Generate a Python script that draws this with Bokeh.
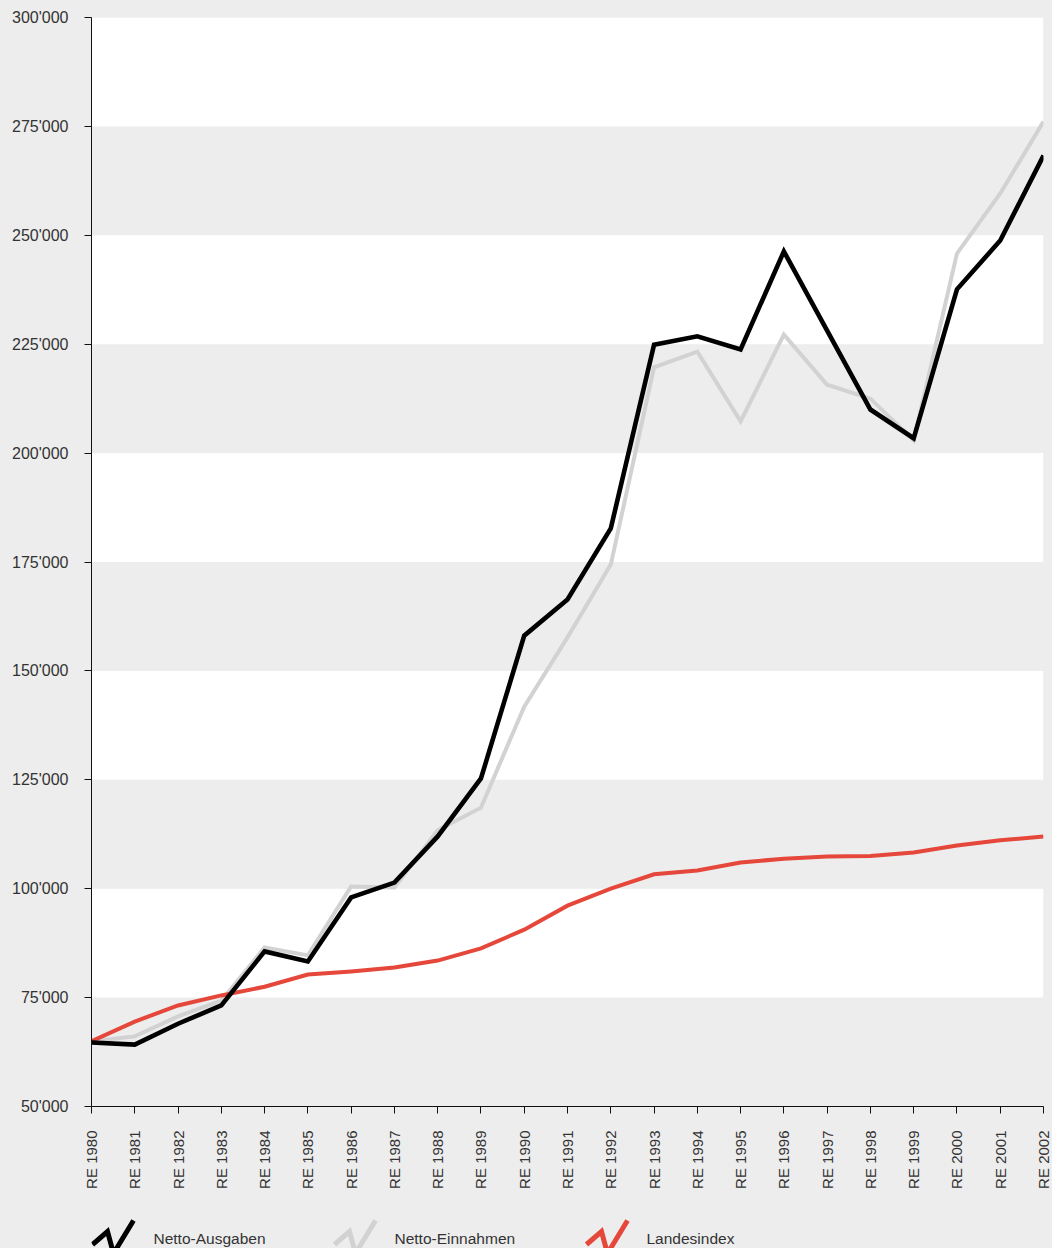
import math
from bokeh.plotting import figure
from bokeh.models import (Range1d, FixedTicker, BoxAnnotation, CustomJSTickFormatter, ColumnDataSource)
from bokeh.layouts import column
from bokeh.core.properties import value
from bokeh.embed import file_html
from bokeh.resources import INLINE

# ---------------- data ----------------
years = ["RE 1980", "RE 1981", "RE 1982", "RE 1983", "RE 1984", "RE 1985", "RE 1986",
         "RE 1987", "RE 1988", "RE 1989", "RE 1990", "RE 1991", "RE 1992", "RE 1993",
         "RE 1994", "RE 1995", "RE 1996", "RE 1997", "RE 1998", "RE 1999", "RE 2000",
         "RE 2001", "RE 2002"]

netto_ausgaben = [64700, 64200, 69000, 73200, 85600, 83300, 98000, 101400, 112000, 125300,
                  158100, 166400, 182700, 224900, 226800, 223800, 246300, 228100, 210000,
                  203400, 237600, 248800, 268300]

netto_einnahmen = [65000, 66100, 70700, 74300, 86500, 84700, 100500, 100300, 113400, 118600,
                   141800, 157700, 174400, 219700, 223300, 207300, 227200, 215700, 212500,
                   202900, 245800, 259600, 276100]

landesindex = [65000, 69500, 73200, 75500, 77500, 80300, 81000, 81900, 83500, 86300,
               90600, 96100, 100000, 103300, 104200, 106000, 106900, 107400, 107500,
               108300, 109900, 111100, 112000]

series_names = ["Netto-Ausgaben", "Netto-Einnahmen", "Landesindex"]
y_ticks = [50000, 75000, 100000, 125000, 150000, 175000, 200000, 225000, 250000, 275000, 300000]

# ---------------- style ----------------
BG = "#ededed"
FONT = "Liberation Sans"
TXT = "#333333"
colors = {"Netto-Ausgaben": "#000000", "Netto-Einnahmen": "#d2d2d2", "Landesindex": "#e5473b"}
widths = {"Netto-Ausgaben": 4.6, "Netto-Einnahmen": 4, "Landesindex": 4}

FRAME_L, FRAME_R, FRAME_T, FRAME_B = 91, 1043, 17, 1106
W, H_MAIN, H_LEG = 1052, 1200, 48

xs = list(range(len(years)))

p = figure(width=W, height=H_MAIN, output_backend="svg", toolbar_location=None,
           x_range=Range1d(0, len(years) - 1), y_range=Range1d(y_ticks[0], y_ticks[-1]),
           frame_width=FRAME_R - FRAME_L, frame_height=FRAME_B - FRAME_T,
           min_border_left=FRAME_L, min_border_top=FRAME_T, min_border_right=W - FRAME_R,
           min_border_bottom=H_MAIN - FRAME_B)
p.background_fill_color = BG
p.border_fill_color = BG
p.outline_line_color = None
p.grid.visible = False

# alternating white bands
for i in range(1, len(y_ticks) - 1, 2):
    p.add_layout(BoxAnnotation(bottom=y_ticks[i], top=y_ticks[i + 1],
                               fill_color="white", fill_alpha=1, line_color=None, level="underlay"))

src = ColumnDataSource(dict(x=xs, a=netto_ausgaben, e=netto_einnahmen, l=landesindex))
p.line("x", "e", source=src, line_color=colors["Netto-Einnahmen"], line_width=widths["Netto-Einnahmen"], line_join="miter")
p.line("x", "l", source=src, line_color=colors["Landesindex"], line_width=widths["Landesindex"], line_join="miter")
p.line("x", "a", source=src, line_color=colors["Netto-Ausgaben"], line_width=widths["Netto-Ausgaben"], line_join="miter")

# axes
p.yaxis.ticker = FixedTicker(ticks=y_ticks)
p.yaxis.formatter = CustomJSTickFormatter(code="""
    var s = Math.round(tick).toString();
    return s.replace(/\\B(?=(\\d{3})+(?!\\d))/g, "'");
""")
p.xaxis.ticker = FixedTicker(ticks=xs)
p.xaxis.major_label_overrides = {i: y for i, y in enumerate(years)}
p.xaxis.major_label_orientation = math.pi / 2
for ax in (p.xaxis, p.yaxis):
    ax.axis_line_color = "#111111"
    ax.axis_line_width = 1
    ax.major_tick_line_color = "#111111"
    ax.major_tick_in = 0
    ax.major_tick_out = 7
    ax.minor_tick_line_color = None
    ax.major_label_text_font = FONT
    ax.major_label_text_color = TXT
p.xaxis.major_label_text_font_size = "15px"
p.yaxis.major_label_text_font_size = "16px"
p.yaxis.major_label_standoff = 16
p.xaxis.major_label_standoff = 17

# ---------------- legend strip (frame aligned with main frame; page coordinates) ----------------
lg = figure(width=W, height=H_LEG, output_backend="svg", toolbar_location=None,
            x_range=Range1d(FRAME_L, FRAME_R), y_range=Range1d(H_MAIN + H_LEG, H_MAIN),
            frame_width=FRAME_R - FRAME_L, frame_height=H_LEG,
            min_border_left=FRAME_L, min_border_right=W - FRAME_R,
            min_border_top=0, min_border_bottom=0)
lg.background_fill_color = BG
lg.border_fill_color = BG
lg.outline_line_color = None
lg.axis.visible = False
lg.grid.visible = False

icon_x0 = [92, 334, 586]
text_x0 = [153, 394, 646]
zig_dx = [0, 15, 21, 41]
zig_y = [1244, 1231, 1253, 1220]
for name, ix, tx in zip(series_names, icon_x0, text_x0):
    lg.line([ix + d for d in zig_dx], zig_y, line_color=colors[name], line_width=5, line_join="miter")
    lg.text(x=[tx], y=[1238], text=[name], text_font=value(FONT), text_font_size="15.5px",
            text_color=TXT, text_baseline="middle", text_align="left")

layout = column(p, lg, spacing=0)
html = file_html(layout, INLINE)
html = html.replace("</head>", "<style>html,body{background:#ededed;}</style></head>", 1)
open("out.html", "w").write(html)
